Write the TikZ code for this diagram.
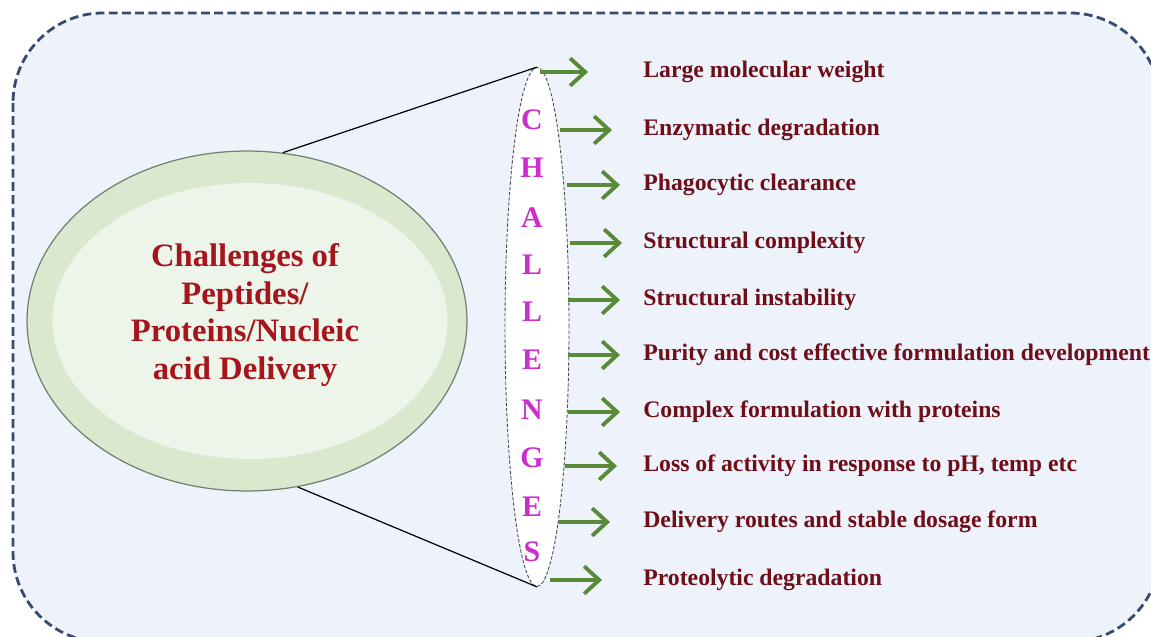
\documentclass[tikz,border=0pt]{standalone}
\usepackage{fontspec}
\setmainfont{Liberation Serif}
\usepackage{tikz}
\usetikzlibrary{arrows.meta,shapes.geometric}
\definecolor{panelbg}{RGB}{238,242,250}
\definecolor{paneledge}{RGB}{55,75,110}
\definecolor{blobout}{RGB}{218,233,205}
\definecolor{blobin}{RGB}{237,245,234}
\definecolor{blobedge}{RGB}{110,130,115}
\definecolor{titlered}{RGB}{165,22,28}
\definecolor{lettermag}{RGB}{205,45,205}
\definecolor{itemred}{RGB}{110,14,24}
\definecolor{arrgreen}{RGB}{88,138,58}
\tikzset{
  item/.style={anchor=west,inner sep=0pt,text=itemred,font=\fontsize{13.5}{15}\selectfont\bfseries},
  letter/.style={inner sep=0pt,text=lettermag,font=\fontsize{17}{17}\selectfont\bfseries},
  arr/.style={line width=2.2pt,arrgreen,-{Straight Barb[length=3mm,width=5.5mm]}}
}

\begin{document}
\begin{tikzpicture}[x=0.02cm,y=-0.02cm]
  \useasboundingbox (0,0) rectangle (1151,636);
  \clip (0,0) rectangle (1151,636);
  % panel
  \draw[fill=panelbg,draw=paneledge,line width=1.6pt,dash pattern=on 5pt off 2.5pt,rounded corners=1.8cm]
      (13,13) rectangle (1160,642);
  % big ellipse
  \node[ellipse,draw=blobedge,line width=0.7pt,fill=blobout,inner sep=0pt,
        minimum width=8.8cm,minimum height=6.8cm] (blob) at (247,321) {};
  \fill[blobin] (250,321) ellipse (3.95cm and 2.76cm);
  \node[align=center,text=titlered,font=\fontsize{18.6}{21.5}\selectfont\bfseries] (title) at (245,315)
      {Challenges of\\Peptides/\\Proteins/Nucleic\\acid Delivery};
  % thin ellipse
  \node[ellipse,draw=gray!60!black,line width=0.5pt,dash pattern=on 2pt off 1pt,fill=white,inner sep=0pt,
        minimum width=1.28cm,minimum height=10.38cm] (spine) at (537,327) {};
  \draw[line width=0.7pt] (blob.78) -- (spine.north);
  \draw[line width=0.7pt] (blob.-73) -- (spine.south);
  \foreach \ch/\y [count=\i] in {C/120,H/168,A/218,L/265,L/312,E/360,N/410,G/458,E/507,S/552}
    \node[letter] (ch\i) at (532,\y) {\ch};
  % challenges
  \foreach \xa/\xb/\y/\txt [count=\i] in {
      540/588/72/{Large molecular weight},
      560/612/130/{Enzymatic degradation},
      567/620/185/{Phagocytic clearance},
      570/622/243/{Structural complexity},
      568/620/300/{Structural instability},
      568/620/355/{Purity and cost effective formulation development},
      568/620/412/{Complex formulation with proteins},
      565/617/466/{Loss of activity in response to pH, temp etc},
      558/610/522/{Delivery routes and stable dosage form},
      550/602/580/{Proteolytic degradation}} {
    \node[item] (it\i) at (643,\y) {\txt};
    \coordinate (tail\i) at (\xa,\y);
    \draw[arr,shorten >={(643-\xb)*0.02cm}] (tail\i) -- (it\i.west);
  }
\end{tikzpicture}
\end{document}
